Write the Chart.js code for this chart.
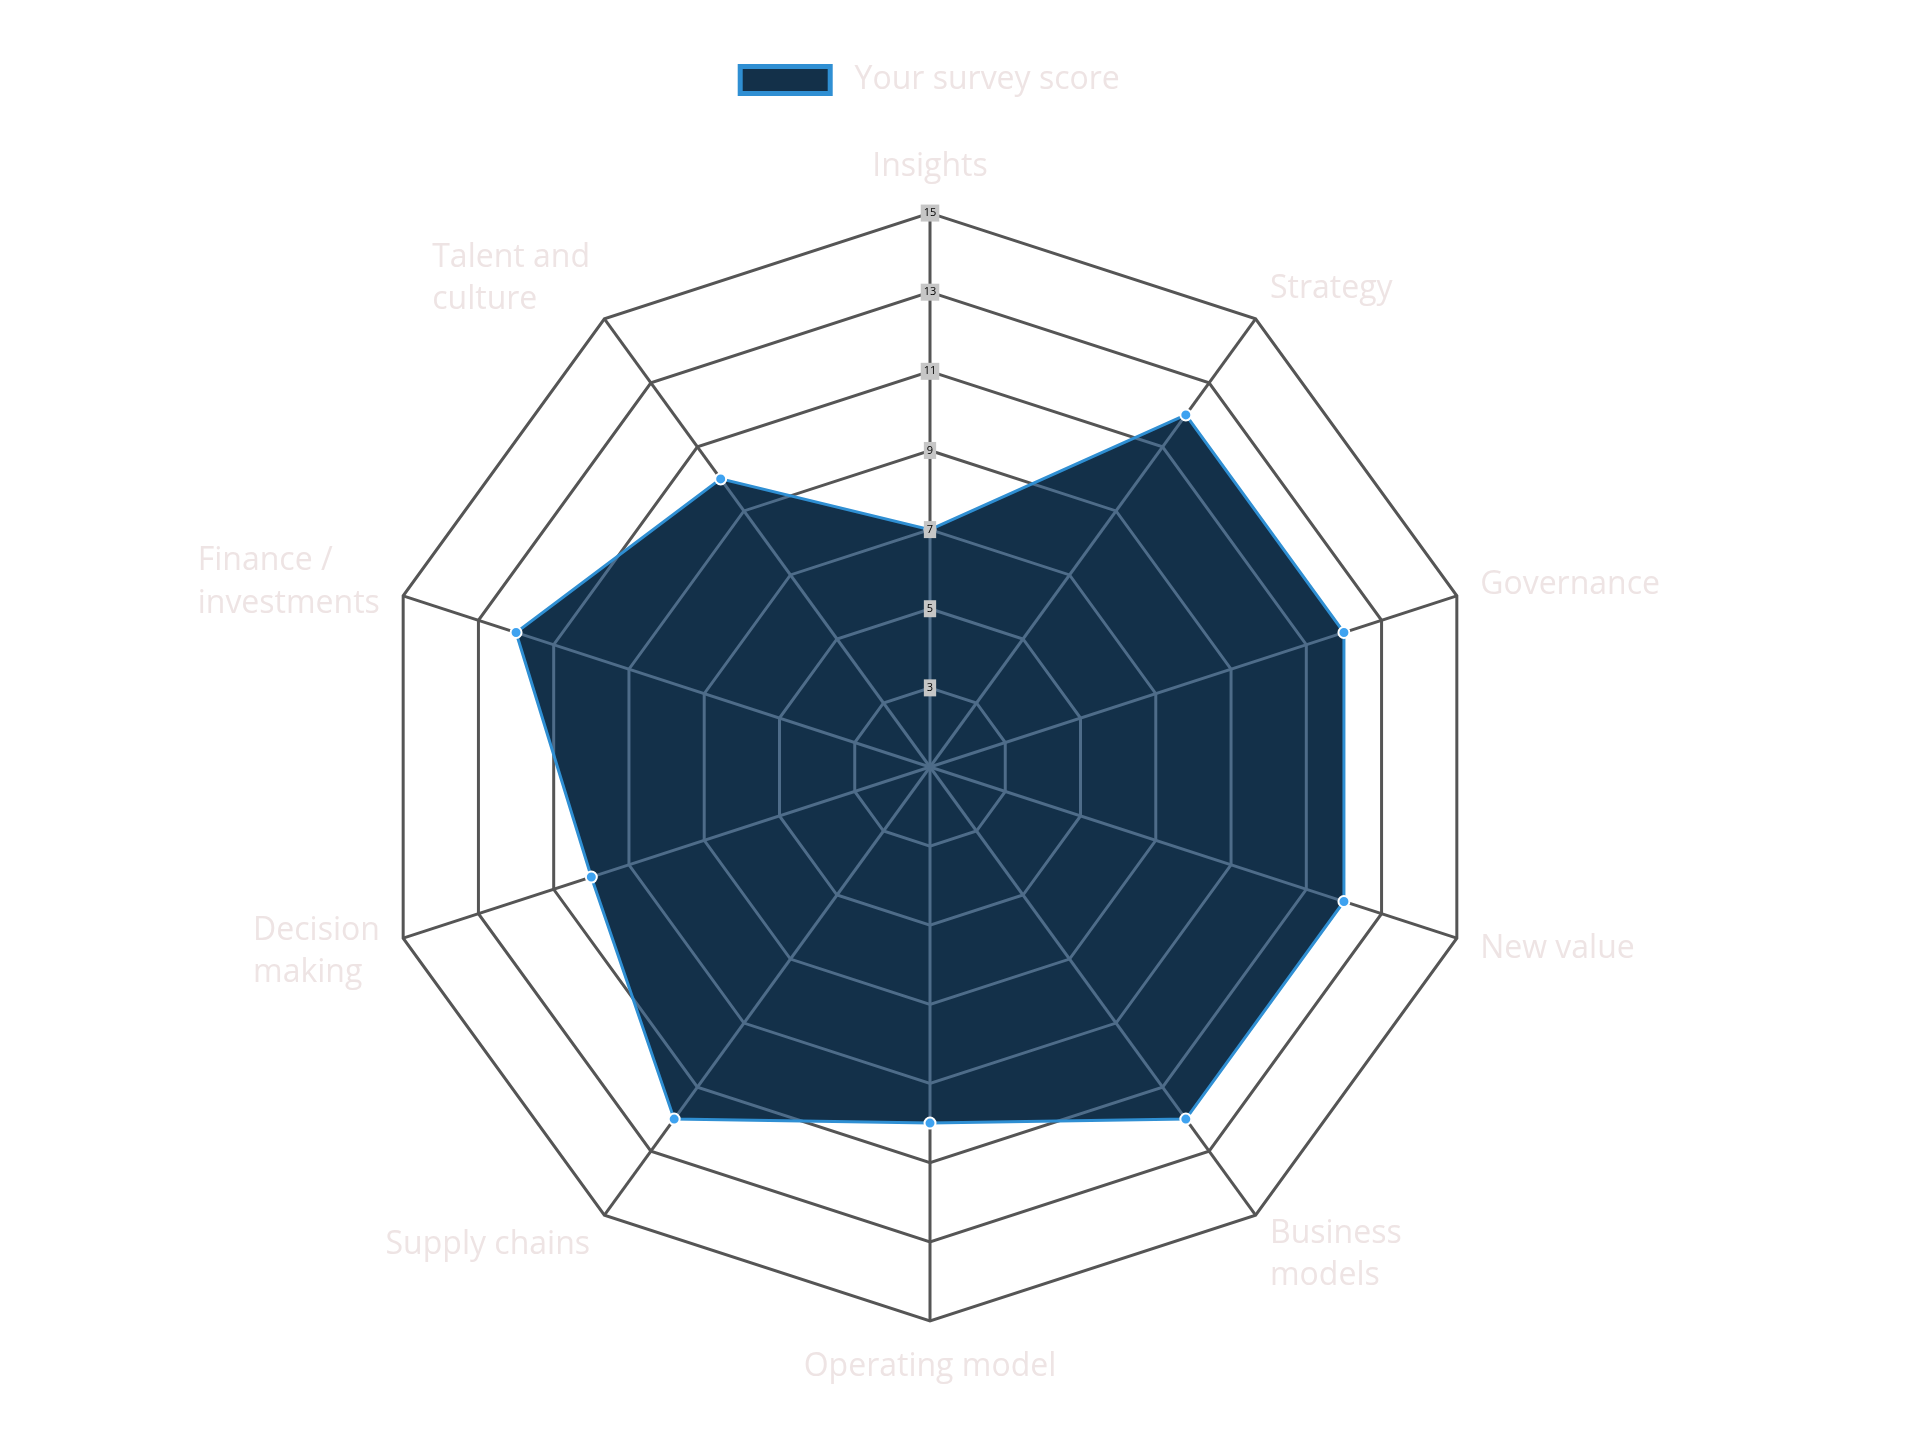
<!DOCTYPE html>
<html>
<head>
<meta charset="utf-8">
<script src="https://cdn.jsdelivr.net/npm/chart.js@4/dist/chart.umd.min.js"></script>
<style>
  html, body { margin: 0; padding: 0; background: #ffffff; }
  #wrap { width: 1920px; height: 1429px; }
</style>
</head>
<body>
<div id="wrap"><canvas id="c" width="1920" height="1429"></canvas></div>
<script>
const categories = [
  'Insights',
  'Strategy',
  'Governance',
  'New value',
  ['Business', 'models'],
  'Operating model',
  'Supply chains',
  ['Decision', 'making'],
  ['Finance /', 'investments'],
  ['Talent and', 'culture']
];
const seriesName = 'Your survey score';
const surveyScores = [7, 12, 12, 12, 12, 10, 12, 10, 12, 10];
const scaleMin = 1;
const scaleMax = 15;
const tickStep = 2;

const labelColor = '#eee4e4';
const outerGrid = '#555555';
const innerGrid = '#4e6c89';

const radarStylePlugin = {
  id: 'radarStyle',
  beforeInit(chart) {
    const legend = chart.legend;
    if (legend) {
      const origFit = legend.fit;
      legend.fit = function () {
        origFit.call(this);
        this.height += 40;
      };
    }
  },
  afterLayout(chart) {
    // left-align multi-line labels and centre them a bit more on their spoke
    const scale = chart.scales.r;
    const items = scale._pointLabelItems;
    if (!items) return;
    items.forEach((item, i) => {
      const h = item.bottom - item.top;
      const a = scale.getIndexAngle(i);
      const s = Math.abs(Math.sin(a));
      const c = Math.cos(a);
      if (Math.abs(c) > 1e-6) {
        const dy = (c > 0 ? 1 : -1) * (h / 2) * s * 0.9;
        item.y += dy; item.top += dy; item.bottom += dy;
      }
      if (item.textAlign === 'right') {
        item.x = item.left;
        item.textAlign = 'left';
      }
    });
  },
  beforeDatasetDraw(chart, args) {
    if (args.index !== 0) return;
    const meta = chart.getDatasetMeta(0);
    const scale = chart.scales.r;
    const ctx = chart.ctx;
    const n = chart.data.labels.length;
    ctx.save();
    ctx.beginPath();
    meta.data.forEach((p, i) => { if (i === 0) ctx.moveTo(p.x, p.y); else ctx.lineTo(p.x, p.y); });
    ctx.closePath();
    ctx.clip();
    ctx.strokeStyle = innerGrid;
    ctx.lineWidth = 3;
    scale.ticks.forEach(t => {
      if (t.value <= scaleMin) return;
      ctx.beginPath();
      for (let i = 0; i < n; i++) {
        const pt = scale.getPointPositionForValue(i, t.value);
        if (i === 0) ctx.moveTo(pt.x, pt.y); else ctx.lineTo(pt.x, pt.y);
      }
      ctx.closePath();
      ctx.stroke();
    });
    for (let i = 0; i < n; i++) {
      const pt = scale.getPointPositionForValue(i, scaleMax);
      ctx.beginPath();
      ctx.moveTo(scale.xCenter, scale.yCenter);
      ctx.lineTo(pt.x, pt.y);
      ctx.stroke();
    }
    ctx.restore();
  }
};

new Chart(document.getElementById('c'), {
  type: 'radar',
  data: {
    labels: categories,
    datasets: [{
      label: seriesName,
      data: surveyScores,
      backgroundColor: '#133049',
      borderColor: '#2f8fd3',
      borderWidth: 3,
      fill: true,
      pointRadius: 5.5,
      pointBackgroundColor: '#3ea2f0',
      pointBorderColor: '#ffffff',
      pointBorderWidth: 2,
      tension: 0
    }]
  },
  options: {
    responsive: false,
    devicePixelRatio: 1,
    animation: false,
    layout: { padding: { top: 34, bottom: 41, left: 20, right: 80 } },
    plugins: {
      legend: {
        position: 'top',
        labels: {
          color: labelColor,
          font: { family: 'Open Sans', size: 32 },
          boxWidth: 90,
          boxHeight: 27,
          padding: 30,
          generateLabels(chart) {
            const items = Chart.defaults.plugins.legend.labels.generateLabels(chart);
            items.forEach(it => { it.lineWidth = 5; it.text = ' ' + it.text; });
            return items;
          }
        }
      },
      tooltip: { enabled: false }
    },
    scales: {
      r: {
        min: scaleMin,
        max: scaleMax,
        ticks: {
          stepSize: tickStep,
          color: '#000000',
          font: { family: 'Open Sans', size: 11 },
          backdropColor: '#c6c6c6',
          backdropPadding: 3,
          z: 1
        },
        grid: { color: outerGrid, lineWidth: 3 },
        angleLines: { color: outerGrid, lineWidth: 3 },
        pointLabels: {
          color: labelColor,
          font: { family: 'Open Sans', size: 32, lineHeight: 1.33 },
          padding: 16
        }
      }
    }
  },
  plugins: [radarStylePlugin]
});
</script>
</body>
</html>
